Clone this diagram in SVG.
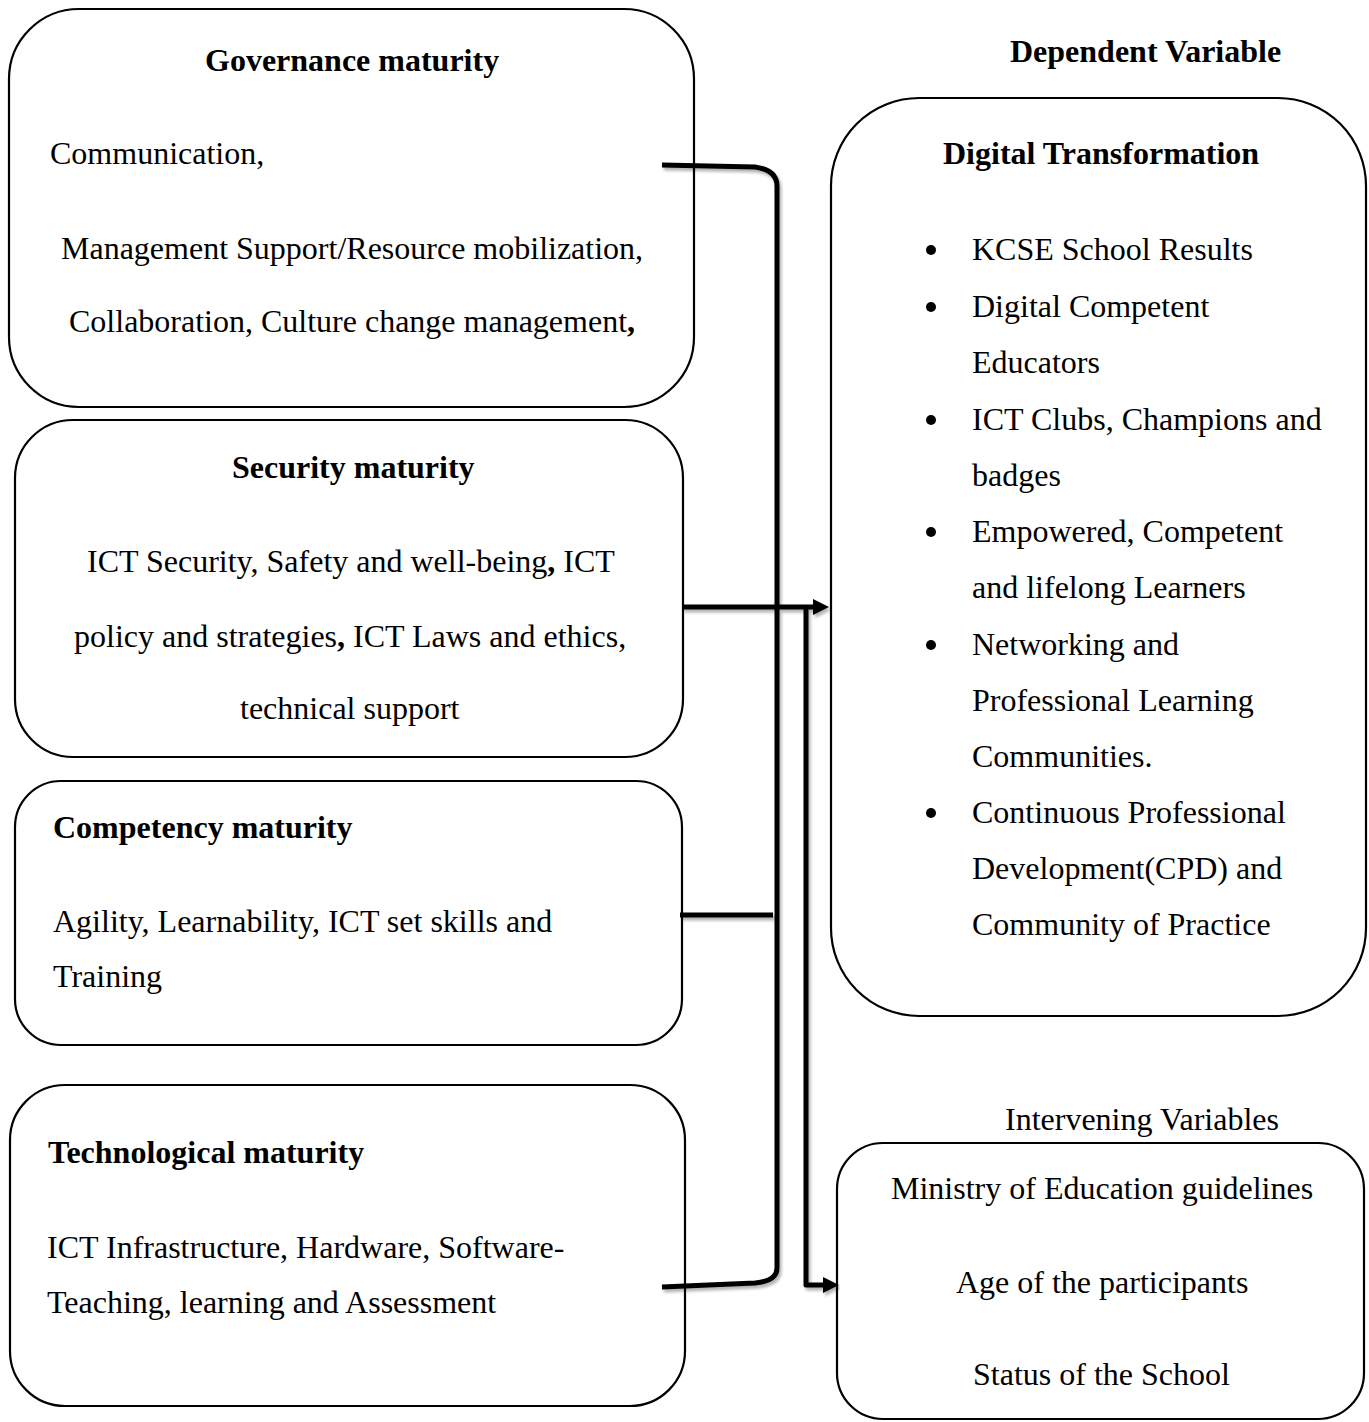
<svg xmlns="http://www.w3.org/2000/svg" width="1369" height="1422" viewBox="0 0 1369 1422">
<style>
.box{fill:#fff;stroke:#000;stroke-width:2.2}
.t{font-family:"Liberation Serif","Times New Roman",serif;font-size:32px;fill:#000}
.b{font-weight:bold}
.c{text-anchor:middle}
.conn{fill:none;stroke:#000;stroke-width:5;stroke-linejoin:round}
</style>
<defs>
<marker id="ah" markerUnits="userSpaceOnUse" markerWidth="17" markerHeight="17" refX="0" refY="8" orient="auto" viewBox="0 0 17 17">
<path d="M0,0 L16,8 L0,16 Z" fill="#000"/>
</marker>
<filter id="sh" x="-10%" y="-10%" width="120%" height="120%">
<feDropShadow dx="2" dy="3" stdDeviation="1.5" flood-color="#000" flood-opacity="0.3"/>
</filter>
</defs>
<rect width="1369" height="1422" fill="#fff"/>

<g id="governance">
<rect class="box" x="9" y="9" width="685" height="398" rx="70" ry="70"/>
<text class="t b" x="205" y="71">Governance maturity</text>
<text class="t" x="50" y="164">Communication,</text>
<text class="t" x="61" y="259">Management Support/Resource mobilization,</text>
<text class="t" x="69" y="332">Collaboration, Culture change management<tspan font-weight="bold">,</tspan></text>
</g>

<g id="security">
<rect class="box" x="15" y="420" width="668" height="337" rx="58" ry="58"/>
<text class="t b" x="232" y="478">Security maturity</text>
<text class="t" x="87" y="572">ICT Security, Safety and well-being<tspan font-weight="bold">,</tspan> ICT</text>
<text class="t" x="74" y="647">policy and strategies<tspan font-weight="bold">,</tspan> ICT Laws and ethics,</text>
<text class="t" x="240" y="719">technical support</text>
</g>

<g id="competency">
<rect class="box" x="15" y="781" width="667" height="264" rx="46" ry="46"/>
<text class="t b" x="53" y="838">Competency maturity</text>
<text class="t" x="53" y="932">Agility, Learnability, ICT set skills and</text>
<text class="t" x="53" y="987">Training</text>
</g>

<g id="technological">
<rect class="box" x="10" y="1085" width="675" height="321" rx="55" ry="55"/>
<text class="t b" x="48" y="1163">Technological maturity</text>
<text class="t" x="47" y="1258">ICT Infrastructure, Hardware, Software-</text>
<text class="t" x="47" y="1313">Teaching, learning and Assessment</text>
</g>

<g id="dependent-label">
<text class="t b" x="1010" y="62">Dependent Variable</text>
</g>

<g id="digital-transformation">
<rect class="box" x="831" y="98" width="535" height="918" rx="88" ry="88"/>
<text class="t b" x="943" y="164">Digital Transformation</text>
<g fill="#000">
<circle cx="931" cy="250" r="5"/>
<circle cx="931" cy="307" r="5"/>
<circle cx="931" cy="420" r="5"/>
<circle cx="931" cy="532" r="5"/>
<circle cx="931" cy="645" r="5"/>
<circle cx="931" cy="813" r="5"/>
</g>
<text class="t" x="972" y="260">KCSE School Results</text>
<text class="t" x="972" y="317">Digital Competent</text>
<text class="t" x="972" y="373">Educators</text>
<text class="t" x="972" y="430">ICT Clubs, Champions and</text>
<text class="t" x="972" y="486">badges</text>
<text class="t" x="972" y="542">Empowered, Competent</text>
<text class="t" x="972" y="598">and lifelong Learners</text>
<text class="t" x="972" y="655">Networking and</text>
<text class="t" x="972" y="711">Professional Learning</text>
<text class="t" x="972" y="767">Communities.</text>
<text class="t" x="972" y="823">Continuous Professional</text>
<text class="t" x="972" y="879">Development(CPD) and</text>
<text class="t" x="972" y="935">Community of Practice</text>
</g>

<g id="intervening-label">
<text class="t" x="1005" y="1130">Intervening Variables</text>
</g>

<g id="intervening">
<rect class="box" x="837" y="1143" width="527" height="276" rx="46" ry="46"/>
<text class="t" x="891" y="1199">Ministry of Education guidelines</text>
<text class="t" x="956" y="1293">Age of the participants</text>
<text class="t" x="973" y="1385">Status of the School</text>
</g>

<g id="connectors" filter="url(#sh)">
<path class="conn" d="M662,165 L755,167 Q777,170 777,186 L777,1268 Q777,1281 755,1283 L662,1287"/>
<path class="conn" d="M682,607 H813" marker-end="url(#ah)"/>
<path class="conn" d="M806,607 V1285 H823" marker-end="url(#ah)"/>
<path class="conn" d="M680,915 H773"/>
</g>
</svg>
